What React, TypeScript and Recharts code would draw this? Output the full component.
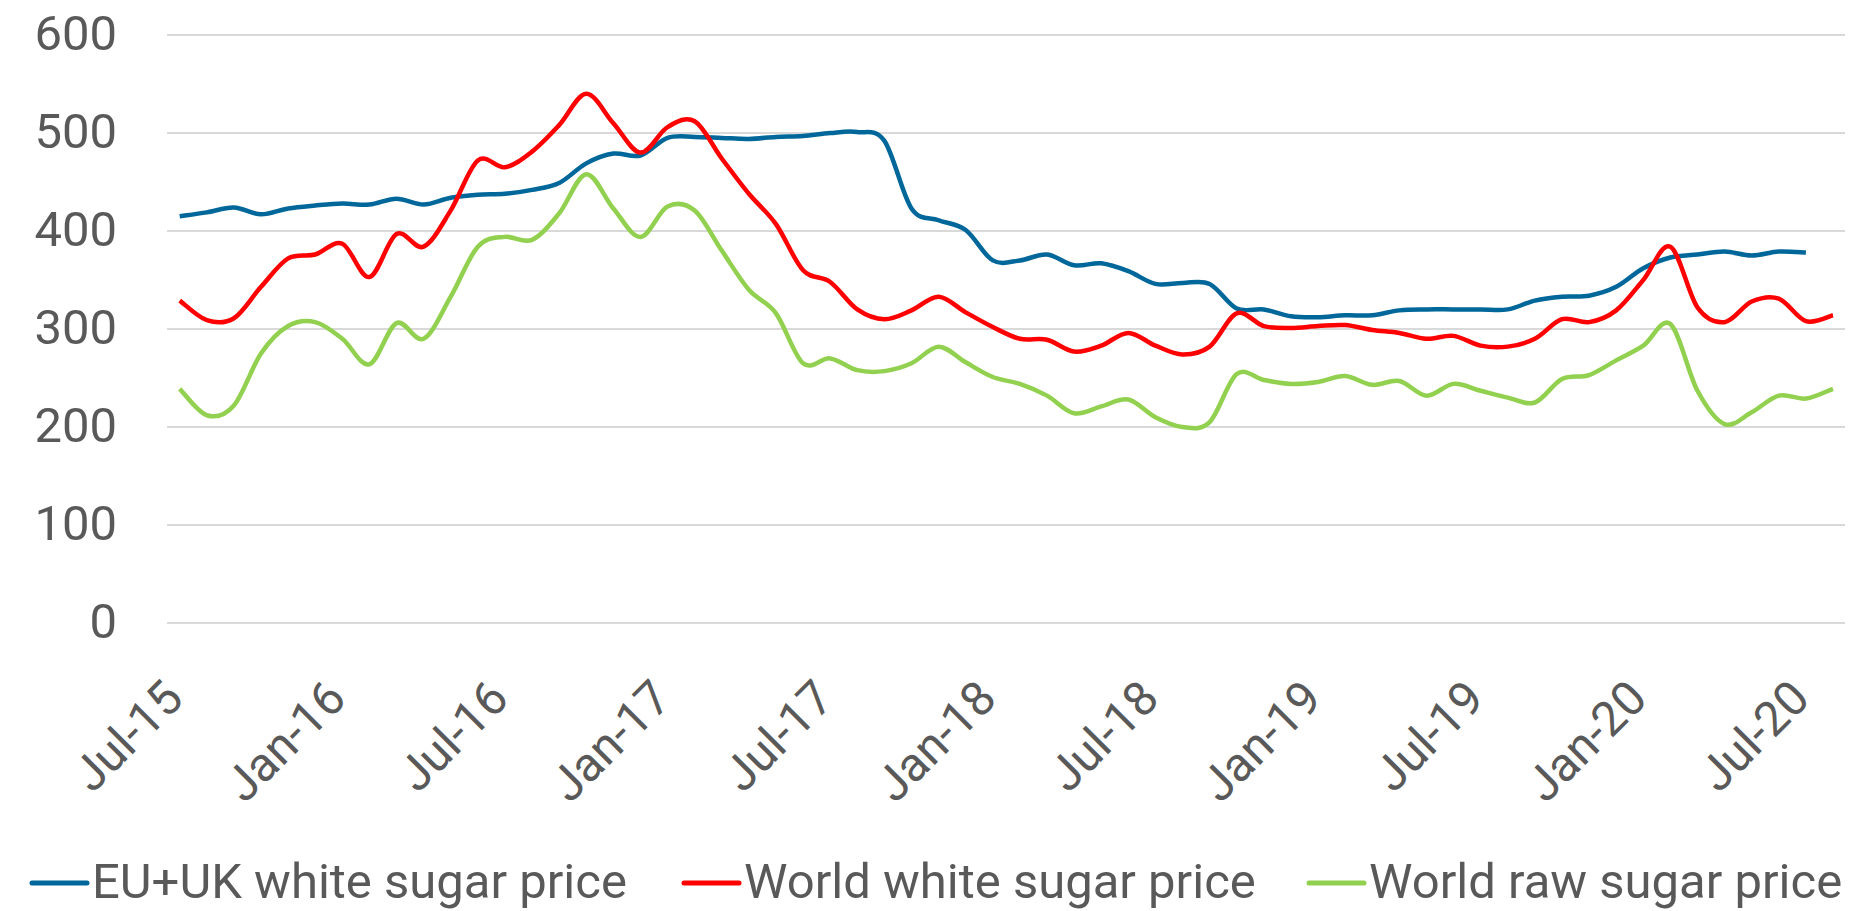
import { LineChart, Line, XAxis, YAxis, CartesianGrid } from 'recharts'

const FONT = 'Roboto, "Noto Sans", sans-serif'
const TEXT = '#595959'

const months = [
  'Jul-15', 'Aug-15', 'Sep-15', 'Oct-15', 'Nov-15', 'Dec-15',
  'Jan-16', 'Feb-16', 'Mar-16', 'Apr-16', 'May-16', 'Jun-16', 'Jul-16', 'Aug-16', 'Sep-16', 'Oct-16', 'Nov-16', 'Dec-16',
  'Jan-17', 'Feb-17', 'Mar-17', 'Apr-17', 'May-17', 'Jun-17', 'Jul-17', 'Aug-17', 'Sep-17', 'Oct-17', 'Nov-17', 'Dec-17',
  'Jan-18', 'Feb-18', 'Mar-18', 'Apr-18', 'May-18', 'Jun-18', 'Jul-18', 'Aug-18', 'Sep-18', 'Oct-18', 'Nov-18', 'Dec-18',
  'Jan-19', 'Feb-19', 'Mar-19', 'Apr-19', 'May-19', 'Jun-19', 'Jul-19', 'Aug-19', 'Sep-19', 'Oct-19', 'Nov-19', 'Dec-19',
  'Jan-20', 'Feb-20', 'Mar-20', 'Apr-20', 'May-20', 'Jun-20', 'Jul-20', 'Aug-20',
]

// EUR/t, monthly
const euUkWhite = [
  415, 419, 424, 417, 423, 426, 428, 427, 433, 427, 434, 437, 438, 442, 449, 469,
  479, 477, 495, 496, 495, 494, 496, 497, 500, 501, 492, 423, 411, 401, 370,
  370, 376, 365, 367, 359, 346, 347, 346, 321, 320, 313, 312, 314, 314, 319,
  320, 320, 320, 320, 329, 333, 334, 343, 362, 373, 376, 379, 375, 379, 378,
]

const worldWhite = [
  329, 309, 311, 343, 372, 376, 387, 353, 397, 384, 421, 472, 465, 481, 508, 540,
  510, 480, 506, 512, 474, 438, 407, 360, 348, 320, 310, 319, 333, 317, 302,
  290, 289, 277, 283, 296, 283, 274, 282, 316, 303, 301, 303, 304, 299, 296,
  290, 293, 283, 282, 290, 310, 307, 319, 350, 384, 322, 307, 328, 331, 308, 314,
]

const worldRaw = [
  239, 212, 222, 275, 303, 307, 290, 264, 306, 290, 333, 384, 394, 391, 418, 458,
  423, 394, 425, 421, 380, 340, 316, 265, 270, 258, 257, 265, 282, 266, 251,
  244, 232, 214, 221, 228, 210, 200, 205, 254, 248, 244, 246, 252, 243, 247,
  232, 244, 237, 230, 225, 249, 253, 268, 283, 305, 237, 203, 215, 232, 229, 239,
]

const yTicks = [0, 100, 200, 300, 400, 500, 600]

const series = [
  { key: 'eu', name: 'EU+UK white sugar price', color: '#00679a' },
  { key: 'white', name: 'World white sugar price', color: '#ff0000' },
  { key: 'raw', name: 'World raw sugar price', color: '#92d050' },
]

const data = months.map((m, i) => ({
  month: m,
  eu: euUkWhite[i] ?? null,
  white: worldWhite[i],
  raw: worldRaw[i],
}))

// Excel-like smoothed line (Catmull-Rom through the points)
function smoothCurve(context: any) {
  let pts: number[][] = []
  return {
    areaStart() {},
    areaEnd() {},
    lineStart() { pts = [] },
    point(x: number, y: number) { pts.push([+x, +y]) },
    lineEnd() {
      const n = pts.length
      if (!n) return
      context.moveTo(pts[0][0], pts[0][1])
      for (let i = 0; i < n - 1; i++) {
        const p0 = pts[i - 1] || pts[i]
        const p1 = pts[i]
        const p2 = pts[i + 1]
        const p3 = pts[i + 2] || p2
        context.bezierCurveTo(
          p1[0] + (p2[0] - p0[0]) / 6, p1[1] + (p2[1] - p0[1]) / 6,
          p2[0] - (p3[0] - p1[0]) / 6, p2[1] - (p3[1] - p1[1]) / 6,
          p2[0], p2[1],
        )
      }
    },
  }
}

const XTick = ({ x, y, payload }: any) => {
  const tx = x + 6
  const ty = y + 78
  return (
    <text x={tx} y={ty} transform={`rotate(-45 ${tx} ${ty})`} textAnchor="end"
      fill={TEXT} fontSize={48} fontFamily={FONT}>
      {payload.value}
    </text>
  )
}

const YTick = ({ x, y, payload }: any) => (
  <text x={x} y={y + 15} textAnchor="end" fill={TEXT} fontSize={49} fontFamily={FONT}>
    {payload.value}
  </text>
)

// legend drawn by hand below the chart
const legendX = [32, 684, 1309]

export default function App() {
  return (
    <div style={{ position: 'absolute', left: 0, top: 0, width: 1857, height: 911, background: '#fff' }}>
      <LineChart width={1857} height={840} data={data} margin={{ top: 35, right: 12, left: 0, bottom: 97 }}>
        <CartesianGrid vertical={false} stroke="#d9d9d9" strokeWidth={2} />
        <XAxis dataKey="month" interval={5} height={120} tickSize={0} tickMargin={0}
          axisLine={false} tickLine={false} padding={{ left: 12.7, right: 12 }} tick={<XTick />} />
        <YAxis domain={[0, 600]} ticks={yTicks} width={167} tickSize={0} tickMargin={50}
          axisLine={false} tickLine={false} tick={<YTick />} />
        {series.map((s) => (
          <Line key={s.key} type={smoothCurve as any} dataKey={s.key} name={s.name} stroke={s.color}
            strokeWidth={4.5} dot={false} activeDot={false} isAnimationActive={false} />
        ))}
      </LineChart>
      <svg width={1857} height={71} style={{ position: 'absolute', left: 0, top: 840 }}>
        {series.map((s, i) => (
          <g key={s.key}>
            <line x1={legendX[i]} x2={legendX[i] + 55} y1={43} y2={43} stroke={s.color} strokeWidth={5} strokeLinecap="round" />
            <text x={legendX[i] + 60} y={58} fill={TEXT} fontSize={49} fontFamily={FONT}>{s.name}</text>
          </g>
        ))}
      </svg>
    </div>
  )
}
